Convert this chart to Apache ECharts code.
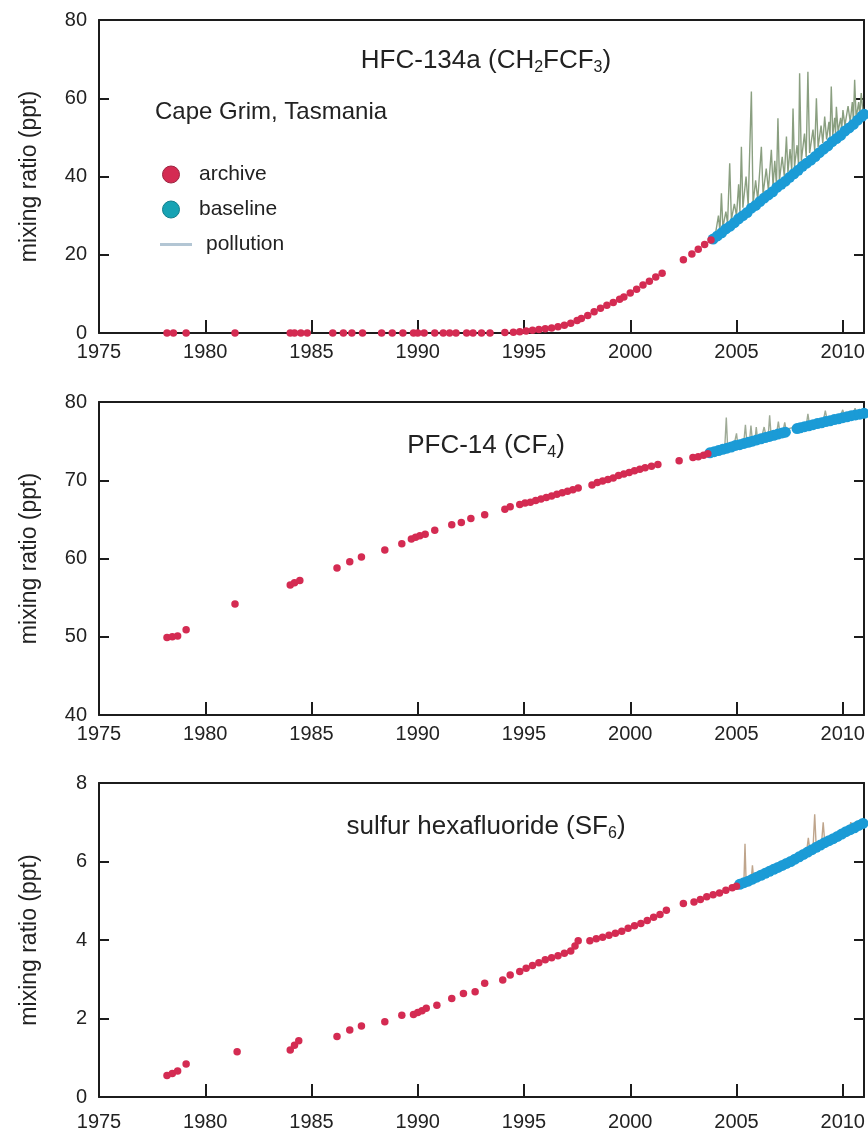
<!DOCTYPE html>
<html><head><meta charset="utf-8">
<script src="https://cdn.jsdelivr.net/npm/echarts@6/dist/echarts.min.js"></script>
<style>html,body{margin:0;padding:0;background:#fff}#c{width:868px;height:1135px}</style>
</head><body><div id="c"></div>
<script>
// ---------- DATA ----------
const xTickYears = [1975, 1980, 1985, 1990, 1995, 2000, 2005, 2010];
const seriesNames = ['archive', 'baseline', 'pollution'];
const legendTitle = 'Cape Grim, Tasmania';
const yAxisTitle = 'mixing ratio (ppt)';

// Panel 1: HFC-134a
const hfcArchive = [[1978.2,0],[1978.5,0],[1979.1,0],[1981.4,0],[1984.0,0],[1984.2,0],[1984.5,0],[1984.8,0],[1986.0,0],[1986.5,0],[1986.9,0],[1987.4,0],[1988.3,0],[1988.8,0],[1989.3,0],[1989.8,0],[1990.0,0],[1990.3,0],[1990.8,0],[1991.2,0],[1991.5,0],[1991.8,0],[1992.3,0],[1992.6,0],[1993.0,0],[1993.4,0],[1994.1,0.1],[1994.5,0.2],[1994.8,0.3],[1995.1,0.5],[1995.4,0.7],[1995.7,0.9],[1996.0,1.1],[1996.3,1.3],[1996.6,1.6],[1996.9,2.0],[1997.2,2.5],[1997.5,3.2],[1997.7,3.7],[1998.0,4.5],[1998.3,5.4],[1998.6,6.3],[1998.9,7.1],[1999.2,7.8],[1999.5,8.6],[1999.7,9.2],[2000.0,10.2],[2000.3,11.2],[2000.6,12.3],[2000.9,13.2],[2001.2,14.3],[2001.5,15.3],[2002.5,18.7],[2002.9,20.2],[2003.2,21.4],[2003.5,22.6],[2003.8,23.8]];
const hfcBaseline = [[2003.9,24.0],[2004.1,24.8],[2004.3,25.6],[2004.5,26.6],[2004.7,27.3],[2004.9,28.2],[2005.1,29.2],[2005.3,30.0],[2005.5,30.8],[2005.7,31.9],[2005.9,32.6],[2006.1,33.6],[2006.3,34.5],[2006.5,35.3],[2006.7,36.1],[2006.9,37.2],[2007.1,38.0],[2007.3,38.8],[2007.5,39.8],[2007.7,40.7],[2007.9,41.6],[2008.1,42.6],[2008.3,43.4],[2008.5,44.2],[2008.7,45.1],[2008.9,46.1],[2009.1,47.0],[2009.3,47.8],[2009.5,48.9],[2009.7,49.7],[2009.9,50.5],[2010.1,51.6],[2010.3,52.4],[2010.5,53.3],[2010.7,54.4],[2010.9,55.4],[2011.0,55.9]];
const hfcPollution = [[2004.0,25],[2004.15,30],[2004.22,26],[2004.29,35.7],[2004.36,27],[2004.5,31],[2004.58,28],[2004.68,43.4],[2004.76,29],[2004.9,33],[2005.0,30],[2005.1,38],[2005.16,31],[2005.23,47.6],[2005.3,32],[2005.45,40],[2005.55,32.5],[2005.7,61.7],[2005.78,33],[2005.9,39],[2006.0,34],[2006.17,47.6],[2006.25,35.5],[2006.4,42],[2006.5,36.5],[2006.64,46.8],[2006.72,37.5],[2006.8,44],[2006.88,38],[2006.95,54.9],[2007.02,39],[2007.15,45],[2007.25,40],[2007.35,50.2],[2007.42,41],[2007.52,47],[2007.6,41.5],[2007.66,57.4],[2007.73,42.5],[2007.85,48],[2007.92,43],[2007.97,66.4],[2008.05,44],[2008.2,51],[2008.28,45],[2008.36,66.8],[2008.44,46],[2008.6,52],[2008.68,46.5],[2008.76,60.0],[2008.84,47.5],[2008.98,53],[2009.06,48.5],[2009.15,55.3],[2009.24,49.5],[2009.35,54],[2009.4,50],[2009.46,63.0],[2009.53,50.5],[2009.62,55],[2009.66,51],[2009.70,57.8],[2009.78,51.5],[2009.9,55],[2009.95,52],[2010.01,57.0],[2010.1,53],[2010.25,58],[2010.35,54],[2010.45,59],[2010.5,54],[2010.56,64.7],[2010.63,55],[2010.75,59],[2010.8,55.5],[2010.87,61.3],[2010.95,56.5],[2011.0,57]];

// Panel 2: PFC-14
const cf4Archive = [[1978.2,49.9],[1978.45,50.0],[1978.7,50.1],[1979.1,50.9],[1981.4,54.2],[1984.0,56.6],[1984.2,56.9],[1984.45,57.2],[1986.2,58.8],[1986.8,59.6],[1987.35,60.2],[1988.45,61.1],[1989.25,61.9],[1989.7,62.5],[1989.9,62.7],[1990.1,62.9],[1990.35,63.1],[1990.8,63.6],[1991.6,64.3],[1992.05,64.6],[1992.5,65.1],[1993.15,65.6],[1994.1,66.3],[1994.35,66.6],[1994.8,66.9],[1995.05,67.1],[1995.3,67.2],[1995.55,67.4],[1995.8,67.6],[1996.05,67.8],[1996.3,68.0],[1996.55,68.2],[1996.8,68.4],[1997.05,68.6],[1997.3,68.8],[1997.55,69.0],[1998.2,69.4],[1998.45,69.7],[1998.7,69.9],[1998.95,70.1],[1999.2,70.3],[1999.45,70.6],[1999.7,70.8],[1999.95,71.0],[2000.2,71.2],[2000.45,71.4],[2000.7,71.6],[2001.0,71.8],[2001.3,72.0],[2002.3,72.5],[2002.95,72.9],[2003.2,73.0],[2003.45,73.2],[2003.65,73.4]];
const cf4Baseline = [[2003.75,73.5],[2003.95,73.65],[2004.15,73.8],[2004.35,73.95],[2004.55,74.1],[2004.75,74.25],[2004.95,74.45],[2005.15,74.55],[2005.35,74.7],[2005.55,74.85],[2005.75,75.0],[2005.95,75.15],[2006.15,75.3],[2006.35,75.45],[2006.55,75.6],[2006.75,75.75],[2006.95,75.9],[2007.15,76.05],[2007.3,76.15],[2007.85,76.6],[2008.0,76.7],[2008.2,76.85],[2008.4,76.95],[2008.6,77.1],[2008.8,77.25],[2009.0,77.35],[2009.2,77.5],[2009.4,77.6],[2009.6,77.75],[2009.8,77.85],[2010.0,78.0],[2010.2,78.1],[2010.4,78.25],[2010.6,78.35],[2010.8,78.45],[2011.0,78.55]];
const cf4Pollution = [[2004.0,73.9],[2004.45,74.3],[2004.52,78.0],[2004.58,74.4],[2004.9,74.7],[2005.0,76.0],[2005.05,74.8],[2005.35,75.0],[2005.42,77.1],[2005.48,75.1],[2005.62,75.2],[2005.68,77.0],[2005.74,75.3],[2005.88,75.4],[2005.93,76.8],[2005.98,75.5],[2006.2,75.7],[2006.3,76.8],[2006.38,75.8],[2006.5,75.9],[2006.56,78.3],[2006.62,76.0],[2006.9,76.2],[2006.97,77.5],[2007.03,76.3],[2007.2,76.4],[2007.27,77.4],[2007.33,76.5],[2008.0,77.0],[2008.3,77.3],[2008.36,78.5],[2008.42,77.4],[2009.1,77.8],[2009.18,78.9],[2009.25,77.9],[2009.9,78.3],[2010.0,79.0],[2010.06,78.4],[2010.5,78.6],[2010.58,79.2],[2010.65,78.7],[2011.0,78.9]];

// Panel 3: SF6
const sf6Archive = [[1978.2,0.55],[1978.45,0.6],[1978.7,0.66],[1979.1,0.84],[1981.5,1.15],[1984.0,1.2],[1984.2,1.32],[1984.4,1.43],[1986.2,1.54],[1986.8,1.71],[1987.35,1.81],[1988.45,1.92],[1989.25,2.08],[1989.8,2.1],[1990.0,2.15],[1990.2,2.2],[1990.4,2.26],[1990.9,2.34],[1991.6,2.51],[1992.15,2.64],[1992.7,2.68],[1993.15,2.9],[1994.0,2.98],[1994.35,3.11],[1994.8,3.2],[1995.1,3.28],[1995.4,3.35],[1995.7,3.42],[1996.0,3.5],[1996.3,3.55],[1996.6,3.6],[1996.9,3.66],[1997.2,3.72],[1997.4,3.85],[1997.55,3.98],[1998.1,3.98],[1998.4,4.03],[1998.7,4.07],[1999.0,4.12],[1999.3,4.17],[1999.6,4.22],[1999.9,4.3],[2000.2,4.36],[2000.5,4.42],[2000.8,4.5],[2001.1,4.58],[2001.4,4.65],[2001.7,4.76],[2002.5,4.93],[2003.0,4.97],[2003.3,5.03],[2003.6,5.1],[2003.9,5.15],[2004.2,5.2],[2004.5,5.27],[2004.8,5.33],[2005.0,5.37]];
const sf6Baseline = [[2005.15,5.42],[2005.35,5.46],[2005.55,5.5],[2005.75,5.55],[2005.95,5.6],[2006.15,5.65],[2006.35,5.7],[2006.55,5.75],[2006.75,5.8],[2006.95,5.85],[2007.15,5.9],[2007.35,5.95],[2007.55,6.0],[2007.75,6.06],[2007.95,6.12],[2008.15,6.18],[2008.35,6.24],[2008.55,6.3],[2008.75,6.36],[2008.95,6.42],[2009.15,6.48],[2009.35,6.53],[2009.55,6.58],[2009.75,6.64],[2009.95,6.7],[2010.15,6.76],[2010.35,6.81],[2010.55,6.86],[2010.75,6.92],[2010.95,6.97]];
const sf6Pollution = [[2005.2,5.45],[2005.35,5.5],[2005.4,6.45],[2005.45,5.52],[2005.7,5.58],[2005.75,5.9],[2005.8,5.6],[2008.3,6.25],[2008.38,6.6],[2008.45,6.3],[2008.6,6.33],[2008.68,7.2],[2008.75,6.38],[2009.0,6.45],[2009.08,7.0],[2009.15,6.5],[2010.3,6.82],[2010.38,7.0],[2010.45,6.85]];

// titles: [main, subscript1, mid, subscript2, tail]
const panelTitles = [
  ['HFC-134a (CH', '2', 'FCF', '3', ')'],
  ['PFC-14 (CF', '4', ')', '', ''],
  ['sulfur hexafluoride (SF', '6', ')', '', '']
];
const yMin = [0, 40, 0];
const yMax = [80, 80, 8];
const yStep = [20, 10, 2];
const xMin = 1975, xMax = 2011, xStep = 5;

// ---------- LAYOUT / STYLE ----------
const FONT = "'Liberation Sans',Arial,sans-serif";
const INK = '#1c1c1c';
const gridTops = [20, 402, 783];
const gridHeights = [313, 313, 314];
const titleTops = [43, 428, 809];
const xLabelMargin = [9, 9, 15];
const polColors = ['#8a9f80', '#9eaa96', '#bfa58c'];
const archiveData = [hfcArchive, cf4Archive, sf6Archive];
const baselineData = [hfcBaseline, cf4Baseline, sf6Baseline];
const pollutionData = [hfcPollution, cf4Pollution, sf6Pollution];

const grid = [], xAxis = [], yAxis = [], series = [], title = [];
for (let i = 0; i < 3; i++) {
  grid.push({ left: 99, width: 765, top: gridTops[i], height: gridHeights[i] });
  xAxis.push({
    gridIndex: i, type: 'value', min: xMin, max: xMax, interval: xStep, position: 'bottom',
    axisLine: { onZero: false, lineStyle: { color: INK, width: 2 } },
    axisTick: { inside: true, length: 13, lineStyle: { color: INK, width: 2 } },
    axisLabel: { margin: xLabelMargin[i], fontSize: 20, fontFamily: FONT, color: '#222', showMaxLabel: false,
      formatter: v => xTickYears.indexOf(v) >= 0 ? String(v) : '' },
    splitLine: { show: false }
  });
  xAxis.push({
    gridIndex: i, type: 'value', min: xMin, max: xMax, position: 'top',
    axisLine: { onZero: false, lineStyle: { color: INK, width: 2 } },
    axisTick: { show: false }, axisLabel: { show: false }, splitLine: { show: false }
  });
  yAxis.push({
    gridIndex: i, type: 'value', min: yMin[i], max: yMax[i], interval: yStep[i], position: 'left',
    name: yAxisTitle, nameLocation: 'middle', nameGap: 58,
    nameTextStyle: { fontSize: 23, fontFamily: FONT, color: '#222' },
    axisLine: { onZero: false, lineStyle: { color: INK, width: 2 } },
    axisTick: { inside: true, length: 10, lineStyle: { color: INK, width: 2 } },
    axisLabel: { margin: 12, fontSize: 20, fontFamily: FONT, color: '#222' },
    splitLine: { show: false }
  });
  yAxis.push({
    gridIndex: i, type: 'value', min: yMin[i], max: yMax[i], interval: yStep[i], position: 'right',
    axisLine: { onZero: false, lineStyle: { color: INK, width: 2 } },
    axisTick: { inside: true, length: 10, lineStyle: { color: INK, width: 2 } },
    axisLabel: { show: false }, splitLine: { show: false }
  });
  series.push({
    name: seriesNames[2], type: 'line', xAxisIndex: 2 * i, yAxisIndex: 2 * i, data: pollutionData[i],
    symbol: 'none', showSymbol: false, lineStyle: { color: polColors[i], width: 1.4 }, itemStyle: { color: polColors[i] },
    z: 2, silent: true, animation: false
  });
  series.push({
    name: seriesNames[1], type: 'scatter', xAxisIndex: 2 * i, yAxisIndex: 2 * i, data: baselineData[i],
    symbolSize: 11, itemStyle: { color: '#1b9bd6', opacity: 1 }, z: 3, clip: false, animation: false
  });
  series.push({
    name: seriesNames[0], type: 'scatter', xAxisIndex: 2 * i, yAxisIndex: 2 * i, data: archiveData[i],
    symbolSize: 7.5, itemStyle: { color: '#d42b52', opacity: 1 }, z: 4, clip: false, animation: false
  });
  const t = panelTitles[i];
  let txt = '{a|' + t[0] + '}{s|' + t[1] + '}{a|' + t[2] + '}';
  if (t[3]) txt += '{s|' + t[3] + '}{a|' + t[4] + '}';
  title.push({
    text: txt, left: 481, top: titleTops[i], textAlign: 'center',
    textStyle: {
      rich: {
        a: { fontSize: 26, fontFamily: FONT, color: '#222', fontWeight: 'normal', verticalAlign: 'bottom', padding: [0, 0, 2, 0] },
        s: { fontSize: 16, fontFamily: FONT, color: '#222', fontWeight: 'normal', verticalAlign: 'bottom' }
      }
    }
  });
}
title.push({ text: legendTitle, left: 150, top: 95, textStyle: { fontSize: 24, fontFamily: FONT, color: '#222', fontWeight: 'normal' } });

const option = {
  backgroundColor: '#fff',
  animation: false,
  title, grid, xAxis, yAxis, series,
  legend: [
    {
      orient: 'vertical', left: 157, top: 159, itemWidth: 32, itemHeight: 17, itemGap: 14,
      symbolKeepAspect: true, selectedMode: false,
      textStyle: { fontSize: 21, fontFamily: FONT, color: '#222', padding: [0, 0, 0, 7] },
      data: [
        { name: seriesNames[0], icon: 'circle', itemStyle: { color: '#d42b52', borderColor: '#9c2440', borderWidth: 1 } },
        { name: seriesNames[1], icon: 'circle', itemStyle: { color: '#17a3b4', borderColor: '#127f8c', borderWidth: 1 } }
      ]
    },
    {
      orient: 'vertical', left: 155, top: 229, itemWidth: 32, itemHeight: 3, selectedMode: false,
      textStyle: { fontSize: 21, fontFamily: FONT, color: '#222', padding: [0, 0, 0, 9] },
      data: [{ name: seriesNames[2], icon: 'rect', itemStyle: { color: '#b3c6d4' } }]
    }
  ]
};
const chart = echarts.init(document.getElementById('c'), null, { renderer: 'canvas' });
chart.setOption(option);
</script></body></html>
